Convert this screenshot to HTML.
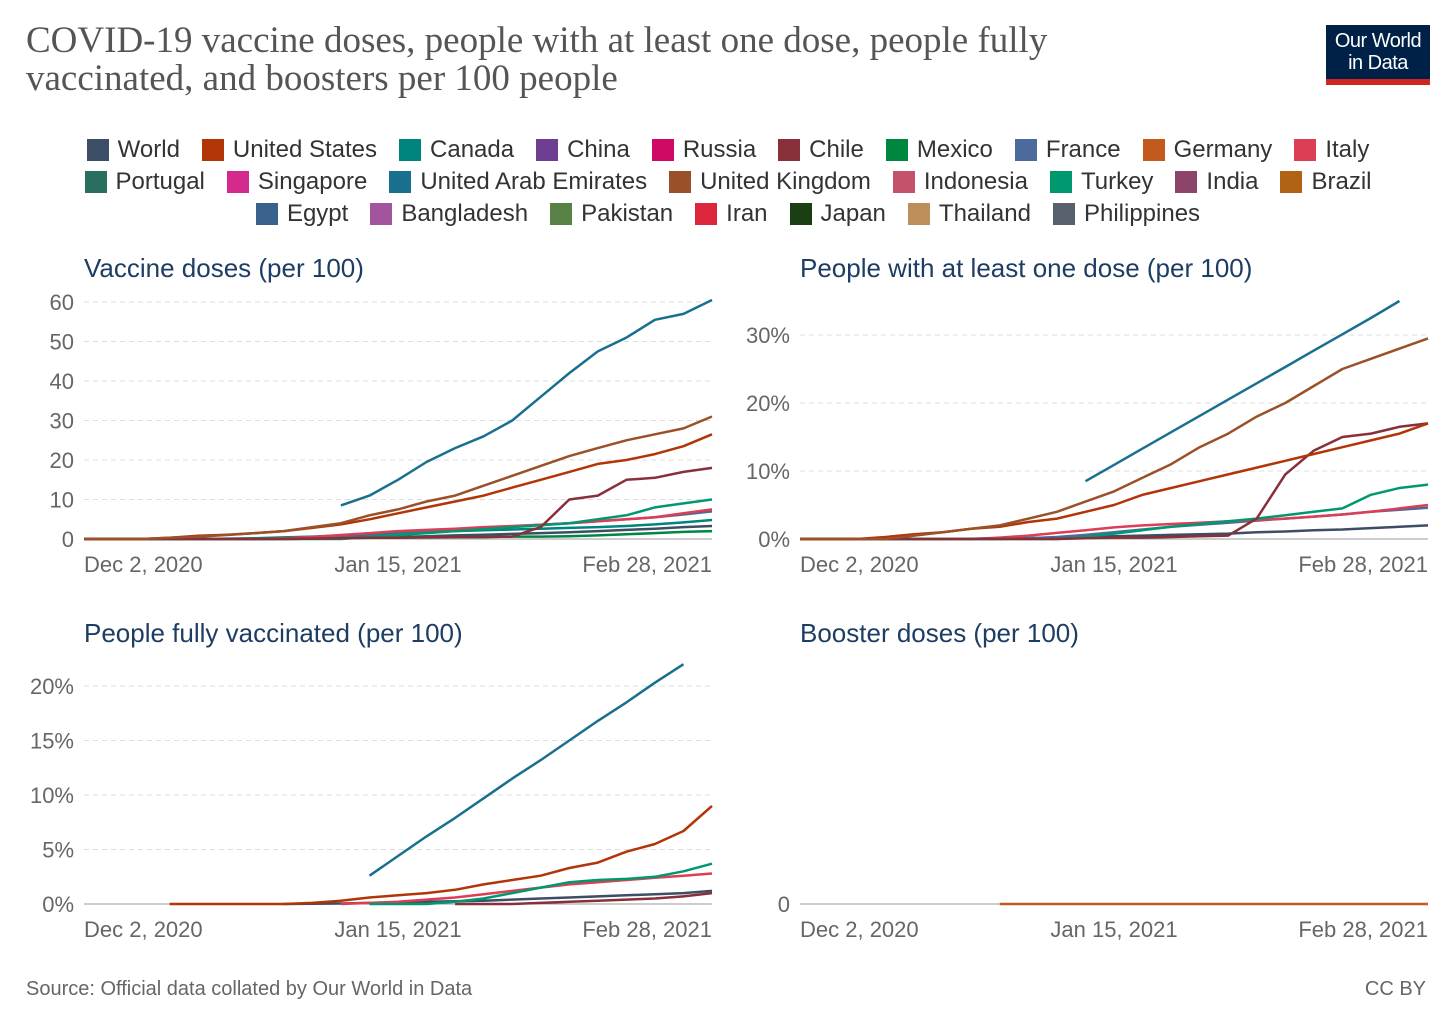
<!DOCTYPE html>
<html><head><meta charset="utf-8">
<style>
body{margin:0;background:#fff;width:1456px;height:1028px;overflow:hidden;font-family:"Liberation Sans",sans-serif;}
#title{position:absolute;left:26px;top:22px;font-family:"Liberation Serif",serif;font-size:37px;line-height:38px;color:#555;width:1250px;white-space:nowrap;}
#logo{position:absolute;left:1326px;top:25px;width:104px;height:60px;background:#002147;color:#fff;font-size:20px;line-height:22px;text-align:center;box-sizing:border-box;padding-top:5px;border-bottom:6px solid #ce261e;letter-spacing:-0.5px}
#legend{position:absolute;left:0;top:134px;width:1456px;}
.lrow{display:flex;justify-content:center;height:32px;align-items:center;}
.li{display:flex;align-items:center;margin:0 11px;font-size:24px;color:#333;}
.sw{width:22px;height:22px;margin-right:9px;}
#src{position:absolute;left:26px;top:978px;font-size:20px;color:#666;}
#cc{position:absolute;right:30px;top:978px;font-size:20px;color:#666;}
svg{position:absolute;left:0;top:0;}
</style></head><body>
<div id="title">COVID-19 vaccine doses, people with at least one dose, people fully<br>vaccinated, and boosters per 100 people</div>
<div id="logo">Our World<br>in Data</div>
<div id="legend"></div>
<svg id="chart" width="1456" height="1028"></svg>
<div id="src">Source: Official data collated by Our World in Data</div>
<div id="cc">CC BY</div>
<script>
const countries=[["World","#3c4e66"],["United States","#b13507"],["Canada","#00847e"],["China","#6d3e91"],["Russia","#cf0a66"],["Chile","#883039"],["Mexico","#00873f"],["France","#4c6a9c"],["Germany","#c15a1c"],["Italy","#dc3e55"],
["Portugal","#286f5f"],["Singapore","#d42a8e"],["United Arab Emirates","#18708e"],["United Kingdom","#9a5129"],["Indonesia","#c4526a"],["Turkey","#00996f"],["India","#8c4569"],["Brazil","#b16214"],
["Egypt","#38618c"],["Bangladesh","#a2559c"],["Pakistan","#578145"],["Iran","#dc263c"],["Japan","#1a3f12"],["Thailand","#bc8e5a"],["Philippines","#58606d"]];
const rows=[[0,10],[10,18],[18,25]];
// days sampled every 4 days from Dec 2, 2020 (day 0) to Feb 28, 2021 (day 88)
const days=[0,4,8,12,16,20,24,28,32,36,40,44,48,52,56,60,64,68,72,76,80,84,88];
const N=null;
// Panel 1: vaccine doses per 100
const dosesUAE=[N,N,N,N,N,N,N,N,N,8.5,11,15,19.5,23,26,30,36,42,47.5,51,55.5,57,60.5];
const dosesUK=[0,0,0,0.3,0.6,1,1.5,2,3,4,6,7.5,9.5,11,13.5,16,18.5,21,23,25,26.5,28,31];
const dosesUS=[0,0,0,0.3,0.8,1.1,1.5,2,2.8,3.7,5,6.5,8,9.5,11,13,15,17,19,20,21.5,23.5,26.5];
const dosesChile=[0,0,0,0,0,0,0,0,0.1,0.2,0.3,0.3,0.4,0.5,0.5,0.6,3,10,11,15,15.5,17,18];
const dosesTurkey=[0,0,0,0,0,0,0,0,0,0,0.5,1,1.5,2,2.5,3,3.5,4,5,6,8,9,10];
const dosesItaly=[0,0,0,0,0,0,0,0.2,0.5,1,1.5,2,2.3,2.6,3,3.3,3.6,4,4.5,5,5.5,6.5,7.5];
const dosesFrance=[0,0,0,0,0,0,0,0,0.1,0.3,0.7,1.2,1.7,2.2,2.7,3.2,3.6,4,4.5,5,5.5,6.2,7];
const dosesCanada=[0,0,0,0,0,0.1,0.2,0.4,0.6,0.9,1.2,1.5,1.8,2,2.2,2.4,2.6,2.8,3,3.3,3.7,4.2,4.8];
const dosesWorld=[0,0,0,0,0,0,0.05,0.1,0.2,0.3,0.4,0.5,0.7,0.9,1.1,1.3,1.5,1.7,2,2.3,2.6,3,3.3];
const dosesMexico=[0,0,0,0,0,0,0,0.05,0.1,0.2,0.3,0.4,0.5,0.5,0.5,0.6,0.6,0.7,0.9,1.2,1.5,1.8,2];
// Panel 2: people with at least one dose (%)
const oneUAE=[N,N,N,N,N,N,N,N,N,N,8.5,10.9,13.3,15.7,18.1,20.5,22.9,25.3,27.7,30.1,32.5,35,N];
const oneUK=[0,0,0,0,0.5,1,1.5,2,3,4,5.5,7,9,11,13.5,15.5,18,20,22.5,25,26.5,28,29.5];
const oneUS=[0,0,0,0.3,0.7,1,1.5,1.8,2.5,3,4,5,6.5,7.5,8.5,9.5,10.5,11.5,12.5,13.5,14.5,15.5,17];
const oneChile=[0,0,0,0,0,0,0,0,0,0,0.1,0.2,0.2,0.3,0.4,0.5,3,9.5,13,15,15.5,16.5,17];
const oneTurkey=[0,0,0,0,0,0,0,0,0,0,0.3,0.8,1.3,1.8,2.2,2.6,3,3.5,4,4.5,6.5,7.5,8];
const oneItaly=[0,0,0,0,0,0,0,0.2,0.5,0.9,1.3,1.7,2,2.2,2.4,2.6,2.8,3,3.3,3.6,4,4.5,5];
const oneFrance=[0,0,0,0,0,0,0,0,0.1,0.3,0.6,1,1.4,1.8,2.1,2.4,2.7,3,3.3,3.6,4,4.3,4.6];
const oneWorld=[0,0,0,0,0,0,0.05,0.1,0.15,0.2,0.3,0.4,0.5,0.6,0.7,0.8,1,1.1,1.3,1.4,1.6,1.8,2];
// Panel 3: people fully vaccinated (%)
const fullUAE=[N,N,N,N,N,N,N,N,N,N,2.6,4.4,6.2,7.9,9.7,11.5,13.2,15,16.8,18.5,20.3,22,N];
const fullUS=[N,N,N,0,0,0,0,0,0.1,0.3,0.6,0.8,1,1.3,1.8,2.2,2.6,3.3,3.8,4.8,5.5,6.7,9];
const fullTurkey=[N,N,N,N,N,N,N,N,N,N,0,0,0,0.2,0.5,1,1.5,2,2.2,2.3,2.5,3,3.7];
const fullItaly=[N,N,N,N,N,N,N,N,N,0,0.1,0.2,0.4,0.6,0.9,1.2,1.5,1.8,2,2.2,2.4,2.6,2.8];
const fullChile=[N,N,N,N,N,N,N,N,N,N,N,N,N,0,0,0,0.1,0.2,0.3,0.4,0.5,0.7,1];
const fullWorld=[N,N,N,N,N,N,N,0,0.02,0.05,0.1,0.15,0.2,0.25,0.3,0.4,0.5,0.6,0.7,0.8,0.9,1,1.2];
// Panel 4: boosters
const boostGermany=[N,N,N,N,N,N,N,0,0,0,0,0,0,0,0,0,0,0,0,0,0,0,0];

const p1Ticks=[0,10,20,30,40,50,60], p2Ticks=[0,10,20,30], p3Ticks=[0,5,10,15,20], p4Ticks=[0];
const xTicks=[0,44,88], xLabels=["Dec 2, 2020","Jan 15, 2021","Feb 28, 2021"];

const leg=document.getElementById('legend');
rows.forEach(([a,b])=>{const r=document.createElement('div');r.className='lrow';
 
 for(let i=a;i<b;i++){const it=document.createElement('div');it.className='li';
  
  
  it.innerHTML='<div class="sw" style="background:'+countries[i][1]+'"></div>'+countries[i][0];r.appendChild(it);}
 leg.appendChild(r);});

const svg=document.getElementById('chart');const NS='http://www.w3.org/2000/svg';
function el(t,a,p){const e=document.createElementNS(NS,t);for(const k in a)e.setAttribute(k,a[k]);(p||svg).appendChild(e);return e;}
function col(n){return countries.find(c=>c[0]==n)[1];}
function panel(o){
 const g=el('g',{});
 const X=d=>o.x0+(d/88)*(o.x1-o.x0), Y=v=>o.y0-(v/o.max)*(o.y0-o.yTop);
 const t=el('text',{x:o.x0,y:o.titleY,'font-size':26,fill:'#1d3d63'},g);t.textContent=o.title;
 
 o.ticks.forEach(v=>{const yy=Y(v);
  if(v>0){const l=el('line',{x1:o.x0,x2:o.x1,y1:yy,y2:yy,stroke:'#ddd','stroke-dasharray':'5,4'},g);}
  const tx=el('text',{x:o.x0-10,y:yy+8,'font-size':22,fill:'#666','text-anchor':'end'},g);tx.textContent=v+o.suf;
  });
 const ax=el('line',{x1:o.x0,x2:o.x1,y1:o.y0,y2:o.y0,stroke:'#999'},g);
 xTicks.forEach((d,i)=>{const tx=el('text',{x:X(d),y:o.y0+33,'font-size':22,fill:'#666','text-anchor':i==0?'start':(i==2?'end':'middle')},g);tx.textContent=xLabels[i];
  });
 o.series.forEach(([n,arr])=>{let dd='';let pen=false;
  arr.forEach((v,i)=>{if(v===null){pen=false;return;}dd+=(pen?'L':'M')+X(days[i]).toFixed(1)+','+Y(v).toFixed(1);pen=true;});
  const p=el('path',{d:dd,fill:'none',stroke:col(n),'stroke-width':2.5,'stroke-linejoin':'round'},g);
  });
}
panel({name:'panel-vaccine-doses',title:'Vaccine doses (per 100)',titleY:277,x0:84,x1:712,y0:539,yTop:302,max:60,ticks:p1Ticks,suf:'',
 series:[["World",dosesWorld],["Mexico",dosesMexico],["Canada",dosesCanada],["France",dosesFrance],["Italy",dosesItaly],["Turkey",dosesTurkey],["Chile",dosesChile],["United States",dosesUS],["United Kingdom",dosesUK],["United Arab Emirates",dosesUAE]]});
panel({name:'panel-at-least-one-dose',title:'People with at least one dose (per 100)',titleY:277,x0:800,x1:1428,y0:539,yTop:335,max:30,ticks:p2Ticks,suf:'%',
 series:[["World",oneWorld],["France",oneFrance],["Italy",oneItaly],["Turkey",oneTurkey],["Chile",oneChile],["United States",oneUS],["United Kingdom",oneUK],["United Arab Emirates",oneUAE]]});
panel({name:'panel-fully-vaccinated',title:'People fully vaccinated (per 100)',titleY:642,x0:84,x1:712,y0:904,yTop:686,max:20,ticks:p3Ticks,suf:'%',
 series:[["World",fullWorld],["Chile",fullChile],["Italy",fullItaly],["Turkey",fullTurkey],["United States",fullUS],["United Arab Emirates",fullUAE]]});
panel({name:'panel-booster-doses',title:'Booster doses (per 100)',titleY:642,x0:800,x1:1428,y0:904,yTop:686,max:20,ticks:p4Ticks,suf:'',
 series:[["Germany",boostGermany]]});
</script>
</body></html>
